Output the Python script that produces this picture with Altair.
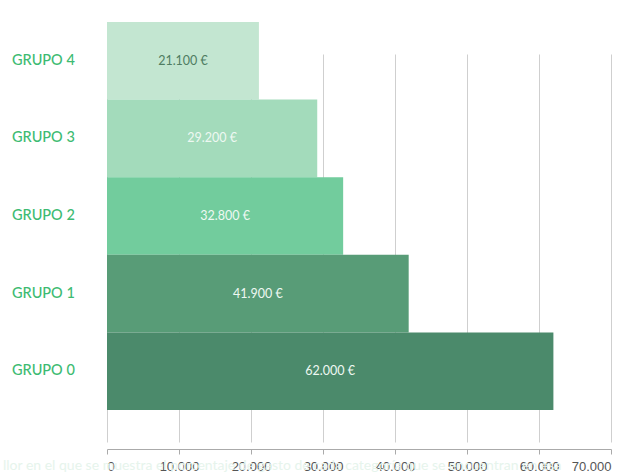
import altair as alt
import pandas as pd

grupos = ["GRUPO 4", "GRUPO 3", "GRUPO 2", "GRUPO 1", "GRUPO 0"]
valores = [21100, 29200, 32800, 41900, 62000]
colores = ["#c3e6d1", "#a3dbbb", "#72cc9d", "#589c77", "#4b8a6b"]
tick_vals = [0, 10000, 20000, 30000, 40000, 50000, 60000, 70000]
caption = "llor en el que se muestra el porcentaje de gasto de cada categoría que se encuentran en esa"

df = pd.DataFrame({"grupo": grupos, "valor": valores})

base = alt.Chart(df)

x_axis = alt.Axis(values=tick_vals, title=None, grid=True, gridColor="#cfcfcf",
                  gridWidth=1, domainColor="#aaaaaa", tickColor="#aaaaaa",
                  tickSize=5, labelPadding=6, labelColor="#555555",
                  labelFont="Liberation Sans", labelFontSize=13,
                  labelExpr="replace(format(datum.value, ','), ',', '.')")

y_enc = alt.Y("grupo:N", sort=grupos, axis=None,
              scale=alt.Scale(range=[7, 395], paddingInner=0, paddingOuter=0))

bars = base.mark_bar(opacity=1).encode(
    x=alt.X("valor:Q", scale=alt.Scale(domain=[0, 70000], nice=False), axis=x_axis),
    y=y_enc,
    color=alt.Color("grupo:N", scale=alt.Scale(domain=grupos, range=colores), legend=None),
)

vals = base.transform_calculate(
    lab="replace(format(datum.valor, ','), ',', '.') + ' €'",
    mid="datum.valor / 2",
).mark_text(font="Lato", fontSize=12.5, baseline="middle").encode(
    x=alt.X("mid:Q", axis=x_axis),
    y=alt.Y("grupo:N", sort=grupos, axis=None),
    text="lab:N",
    color=alt.condition("datum.grupo == 'GRUPO 4'", alt.value("#4f7d62"), alt.value("#eef8f2")),
)

names = base.mark_text(font="Lato", fontSize=14.5, fontWeight=500, align="left",
                       baseline="middle", color="#3dbb72").encode(
    x=alt.value(-95),
    y=alt.Y("grupo:N", sort=grupos, axis=None),
    text="grupo:N",
)

cap = alt.Chart(pd.DataFrame({"t": [caption]})).mark_text(
    font="Lato", fontSize=14, align="left", baseline="middle", color="#e6f4ec"
).encode(x=alt.value(-104), y=alt.value(451), text="t:N")

chart = alt.layer(cap, bars, vals, names).resolve_scale(y="shared").properties(
    width=504, height=434,
    autosize=alt.AutoSizeParams(type="none"),
    padding={"left": 107, "top": 15, "right": 23, "bottom": 26},
    background="white",
).configure_view(stroke=None, strokeWidth=0)

chart.save("out.html", embed_options={"renderer": "svg", "actions": False})
